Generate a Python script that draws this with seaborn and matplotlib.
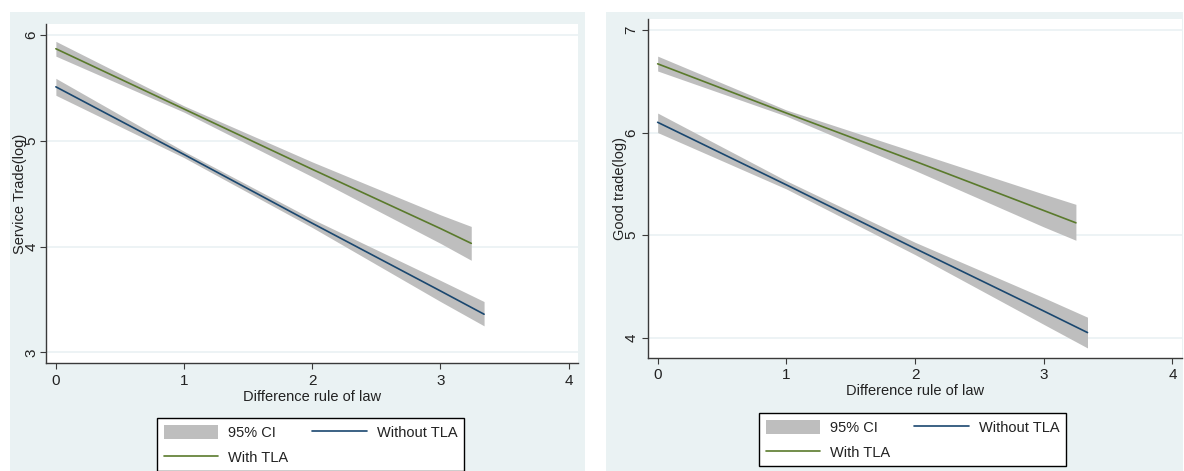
import numpy as np
import pandas as pd
import matplotlib
matplotlib.use("Agg")
import matplotlib.pyplot as plt
import seaborn as sns
from matplotlib.patches import Rectangle, Patch
from matplotlib.lines import Line2D

# ---------------- data ----------------
x_label = "Difference rule of law"
x_ticks = [0, 1, 2, 3, 4]
legend_labels = ["95% CI", "With TLA", "Without TLA"]

# Left panel: Service trade
svc_ylabel = "Service Trade(log)"
svc_yticks = [3, 4, 5, 6]
svc_with_x = [0, 1, 2, 3, 3.24]
svc_with_fit = [5.87, 5.30, 4.73, 4.17, 4.03]
svc_with_lo = [5.80, 5.27, 4.66, 4.03, 3.87]
svc_with_hi = [5.94, 5.33, 4.80, 4.30, 4.19]
svc_without_x = [0, 1, 2, 3, 3.34]
svc_without_fit = [5.51, 4.87, 4.22, 3.58, 3.36]
svc_without_lo = [5.43, 4.84, 4.18, 3.48, 3.25]
svc_without_hi = [5.59, 4.90, 4.26, 3.68, 3.48]

# Right panel: Good trade
gd_ylabel = "Good trade(log)"
gd_yticks = [4, 5, 6, 7]
gd_with_x = [0, 1, 2, 3, 3.25]
gd_with_fit = [6.67, 6.19, 5.72, 5.24, 5.12]
gd_with_lo = [6.60, 6.16, 5.63, 5.08, 4.95]
gd_with_hi = [6.745, 6.22, 5.81, 5.40, 5.30]
gd_without_x = [0, 1, 2, 3, 3.34]
gd_without_fit = [6.10, 5.49, 4.87, 4.26, 4.05]
gd_without_lo = [6.00, 5.45, 4.81, 4.13, 3.90]
gd_without_hi = [6.19, 5.53, 4.93, 4.39, 4.20]

# ---------------- style ----------------
sns.set_theme(style="white")
plt.rcParams["font.family"] = ["Liberation Sans", "DejaVu Sans"]

BLUE = "#1a476f"
GREEN = "#5a7a2c"
BAND = "#bebebe"
PANEL_BG = "#eaf2f3"
GRID = "#edf3f5"
AXC = "#3a3a3a"
FS = 10.5
TFS = 11

W, H = 1184, 471
fig = plt.figure(figsize=(W / 100, H / 100), dpi=100)
fig.patch.set_facecolor("white")

# panel backgrounds
for x0, x1 in [(10, 585), (606, 1183)]:
    fig.add_artist(Rectangle((x0 / W, 0), (x1 - x0) / W, (H - 12) / H,
                             transform=fig.transFigure, facecolor=PANEL_BG,
                             edgecolor="none", zorder=0))


def make_panel(rect, xlim, ylim, yticks, ylabel, series, ylab_x, ypad):
    ax = fig.add_axes(rect)
    ax.set_facecolor("white")
    frames = []
    for name, xs, fit, lo, hi, col in series:
        ax.fill_between(xs, lo, hi, color=BAND, linewidth=0, zorder=2)
        frames.append(pd.DataFrame({"x": xs, "y": fit, "series": name}))
    df = pd.concat(frames, ignore_index=True)
    sns.lineplot(data=df, x="x", y="y", hue="series",
                 palette={s[0]: s[5] for s in series}, linewidth=1.2,
                 ax=ax, legend=False, zorder=3, errorbar=None, sort=False)
    ax.set_xlim(*xlim)
    ax.set_ylim(*ylim)
    ax.set_xticks(x_ticks)
    ax.set_yticks(yticks)
    ax.set_xticklabels([str(t) for t in x_ticks], fontsize=TFS)
    ax.set_yticklabels([str(t) for t in yticks], fontsize=TFS, rotation=90,
                       va="center")
    ax.yaxis.grid(True, color=GRID, linewidth=1.4, zorder=1)
    ax.xaxis.grid(False)
    ax.set_axisbelow(True)
    for s in ["top", "right"]:
        ax.spines[s].set_visible(False)
    for s in ["left", "bottom"]:
        ax.spines[s].set_color(AXC)
        ax.spines[s].set_linewidth(1.0)
    ax.tick_params(axis="x", direction="out", length=4.5, width=0.8,
                   color=AXC, pad=3, labelcolor="#222222", bottom=True)
    ax.tick_params(axis="y", direction="out", length=4.3, width=0.8,
                   color=AXC, pad=ypad, labelcolor="#222222", left=True)
    ax.set_xlabel(x_label, fontsize=FS, color="#222222")
    ax.set_ylabel(ylabel, fontsize=FS, color="#222222")
    ax.xaxis.set_label_coords(0.5, -0.078)
    ax.yaxis.set_label_coords(ylab_x, 0.5)
    return ax


ax1 = make_panel([46 / W, (H - 363.3) / H, 532.3 / W, 339.3 / H],
                 (-0.077, 4.075), (2.896, 6.104), svc_yticks, svc_ylabel,
                 [("With TLA", svc_with_x, svc_with_fit, svc_with_lo, svc_with_hi, GREEN),
                  ("Without TLA", svc_without_x, svc_without_fit, svc_without_lo, svc_without_hi, BLUE)],
                 -0.036, 1.0)

ax2 = make_panel([648.4 / W, (H - 357.7) / H, 533.3 / W, 338.7 / H],
                 (-0.072, 4.072), (3.805, 7.107), gd_yticks, gd_ylabel,
                 [("With TLA", gd_with_x, gd_with_fit, gd_with_lo, gd_with_hi, GREEN),
                  ("Without TLA", gd_without_x, gd_without_fit, gd_without_lo, gd_without_hi, BLUE)],
                 -0.040, 3.0)

handles = [Patch(facecolor=BAND, edgecolor="none"),
           Line2D([], [], color=GREEN, linewidth=1.2),
           Line2D([], [], color=BLUE, linewidth=1.2)]

for (lx, ly) in [(157, 418), (759, 413)]:
    leg = fig.legend(handles, legend_labels, ncol=2, loc="upper left",
                     bbox_to_anchor=(lx / W, 1 - ly / H), frameon=True,
                     fancybox=False, edgecolor="black", framealpha=1,
                     facecolor="white", fontsize=FS, handlelength=3.75,
                     handleheight=1.1, handletextpad=0.7, columnspacing=1.6,
                     borderpad=0.45, labelspacing=0.7, borderaxespad=0)
    leg.get_frame().set_linewidth(1.0)
    for t in leg.get_texts():
        t.set_color("#222222")

fig.savefig("out.png", dpi=100, facecolor="white")
